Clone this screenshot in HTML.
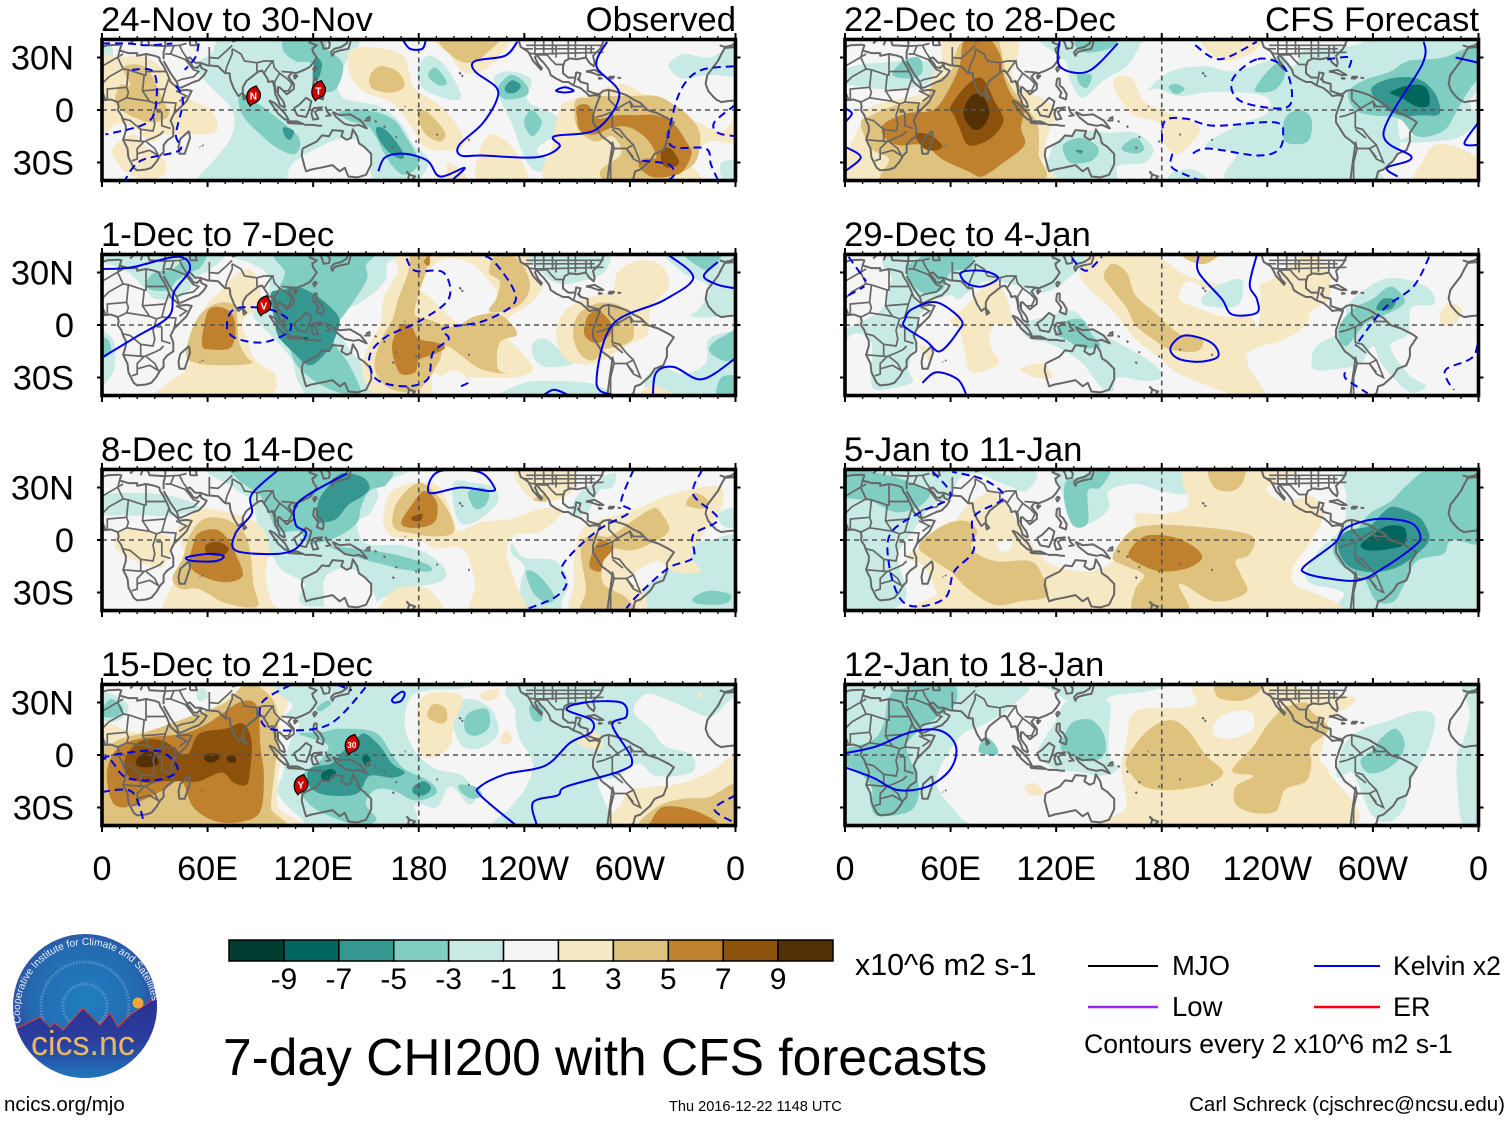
<!DOCTYPE html>
<html lang="en">
<head>
<meta charset="utf-8">
<title>7-day CHI200 with CFS forecasts</title>
<style>
html,body{margin:0;padding:0;background:#fff;}
svg{display:block;font-family:"Liberation Sans",Arial,sans-serif;}
</style>
</head>
<body>
<svg id="chart" xmlns="http://www.w3.org/2000/svg" width="1510" height="1121" viewBox="0 0 1510 1121">
<rect width="1510" height="1121" fill="#fff"/>
<g id="panels"></g>
<g id="xlabels"></g>
<g id="colorbar"></g>
<text x="855" y="975" font-size="30.4">x10^6 m2 s-1</text>
<g>
<line x1="1088" x2="1158" y1="966" y2="966" stroke="#000" stroke-width="2"/>
<text x="1172" y="975" font-size="27.5">MJO</text>
<line x1="1314" x2="1380" y1="966" y2="966" stroke="#0000ff" stroke-width="2"/>
<text x="1393" y="975" font-size="26.6">Kelvin x2</text>
<line x1="1088" x2="1158" y1="1007" y2="1007" stroke="#a020f0" stroke-width="2.4"/>
<text x="1172" y="1016" font-size="27.5">Low</text>
<line x1="1314" x2="1380" y1="1007" y2="1007" stroke="#ff0000" stroke-width="2.4"/>
<text x="1393" y="1016" font-size="27">ER</text>
<text x="1084" y="1053" font-size="26.6">Contours every 2 x10^6 m2 s-1</text>
</g>
<text x="223" y="1075" font-size="51.5">7-day CHI200 with CFS forecasts</text>
<text x="4" y="1111" font-size="20.5">ncics.org/mjo</text>
<text x="669" y="1111" font-size="14.55">Thu 2016-12-22 1148 UTC</text>
<text x="1505" y="1111" font-size="20.5" text-anchor="end">Carl Schreck (cjschrec@ncsu.edu)</text>
<g>
<defs>
<clipPath id="logoClip"><circle cx="85" cy="1006" r="72"/></clipPath>
<radialGradient id="skyGrad" cx="50%" cy="45%" r="55%"><stop offset="0" stop-color="#1f7fc0"/><stop offset="0.7" stop-color="#2469b0"/><stop offset="1" stop-color="#34449e"/></radialGradient>
<linearGradient id="groundGrad" x1="0" y1="0" x2="0" y2="1"><stop offset="0" stop-color="#2b2f92"/><stop offset="0.55" stop-color="#2a3f9e"/><stop offset="1" stop-color="#1f78bd"/></linearGradient>
<path id="logoArc" d="M 21 1023 A 66 66 0 1 1 152 1000"/>
</defs>
<circle cx="85" cy="1006" r="72" fill="url(#skyGrad)"/>
<circle cx="85" cy="1006" r="44" fill="none" stroke="#8fb8e0" stroke-width="3" stroke-dasharray="1.5 1.5" opacity="0.45"/>
<circle cx="85" cy="1006" r="22" fill="none" stroke="#8fb8e0" stroke-width="3" stroke-dasharray="1.5 1.5" opacity="0.45"/>
<g clip-path="url(#logoClip)">
<path d="M10 1030L17 1028L40 1017L50 1027L55 1023L63 1030L83 1008L100 1025L110 1013L118 1027L130 1015L158 996V1080H10Z" fill="url(#groundGrad)" stroke="#e8402a" stroke-width="1"/>
</g>
<circle cx="138" cy="1003" r="5.5" fill="#eea63c"/>
<text font-size="10.2" fill="#e6f2fa"><textPath href="#logoArc">Cooperative Institute for Climate and Satellites</textPath></text>
<text x="31" y="1055" font-size="34" fill="#e9b860">cics.nc</text>
</g>
</svg>
<script>
// ---- Colour scale (band centre values and their fills) ----
const bandValues = [-10,-8,-6,-4,-2,0,2,4,6,8,10];
const bandColors = ["#003c30","#01665e","#35978f","#80cdc1","#c7eae5","#f5f5f5","#f6e8c3","#dfc27d","#bf812d","#8c510a","#543005"];
const barLabels = ["-9","-7","-5","-3","-1","1","3","5","7","9"];
const lonTicks = [0,60,120,180,240,300,360];
const lonLabels = ["0","60E","120E","180","120W","60W","0"];
const latTicks = [30,0,-30];
const latLabels = ["30N","0","30S"];

// ---- CHI200 anomaly fields: [band value, [lon,lat,lon,lat,...]] in paint order ----
const fieldNov24 = [
[-2,[74,42,62,32,53,25,62,13,74,0,74,-14,65,-27,54,-39,54,-42,105,-42,105,-40,110,-29,137,-16,151,-23,153,-37,158,-42,177,-42,186,-29,177,-20,170,-8,158,2,137,7,134,19,139,28,142,42]],
[-2,[-5,36,5,37,6,25,2,18,-5,18]],
[-2,[322,25,330,32,345,30,360,36,365,20,345,20,330,18]],
[-2,[352,-30,365,-30,365,-42,354,-42]],
[-2,[180,25,186,31,196,24,204,8,198,6,186,10,180,16]],
[-2,[223,19,233,22,244,17,242,5,259,-4,257,-14,247,-23,257,-31,247,-35,240,-27,233,-8,226,7]],
[2,[0,28,10,30,25,30,38,20,47,8,62,0,65,-12,50,-14,36,-14,28,-18,18,-10,8,-8,0,-12]],
[2,[6,-22,18,-14,26,-22,35,-28,36,-36,28,-40,18,-38,10,-32]],
[2,[140,32,150,36,170,32,175,20,178,12,195,0,205,-15,203,-22,185,-22,175,-8,165,4,150,10,142,18]],
[2,[192,42,190,38,197,32,205,22,215,22,225,30,230,42]],
[2,[215,-22,222,-14,232,-20,240,-32,240,-42,214,-42]],
[2,[197,-30,207,-38,207,-42,197,-40]],
[2,[256,-42,256,-20,260,0,265,5,280,10,295,15,310,8,320,5,335,-5,352,-12,362,-2,365,-12,365,-20,345,-18,335,-30,335,-42]],
[-4,[186,22,190,24,196,16,192,14,186,18]],
[-4,[225,13,232,20,240,16,242,9,232,6,226,8]],
[-4,[240,-6,244,0,250,-7,245,-15,241,-11]],
[-4,[105,42,103,34,110,28,120,26,125,12,133,12,137,26,128,35,125,42]],
[-4,[78,8,88,4,100,-5,112,-16,110,-25,100,-22,90,-14,80,-3]],
[-4,[135,-1,150,0,165,-5,172,-14,180,-30,172,-37,165,-32,160,-24,152,-10,140,-6]],
[4,[12,24,20,26,27,22,35,5,38,-3,30,-7,20,-5,8,3,10,14,16,14]],
[4,[152,19,158,25,168,22,172,14,165,10,154,12]],
[4,[180,0,186,-2,195,-13,192,-18,184,-14,180,-6]],
[4,[192,42,200,30,210,27,218,32,225,42]],
[4,[269,5,276,7,285,8,300,8,315,8,325,3,335,-5,340,-15,337,-30,325,-38,318,-42,290,-42,283,-35,295,-25,290,-15,280,-18,270,-10]],
[-6,[229,13,233,17,238,14,235,10,230,10]],
[-6,[120,24,122,30,125,26,123,18,120,17]],
[-6,[103,-10,109,-12,107,-17,104,-15]],
[-6,[156,-10,162,-12,171,-24,170,-28,163,-24,157,-16]],
[6,[270,2,276,3,280,-3,283,-5,293,-3,303,-3,315,-3,325,-8,332,-18,335,-25,330,-35,322,-38,312,-38,305,-32,308,-28,315,-27,310,-17,300,-10,290,-10,280,-14,272,-12,270,-5]],
[8,[318,-23,323,-22,328,-30,322,-33,318,-30]]
];
const contourNov24 = [
["s",0,[171,40,175,35,182,35,184,40]],
["s",0,[236,39,229,31,212,28,212,22,224,13,224,5,216,-8,203,-20,204,-26,216,-26,247,-27,260,-21,257,-15,281,-11,294,9,281,25,287,39]],
["s",1,[258,11,263,13,268,11,263,10]],
["s",0,[157,-35,161,-27,172,-25,185,-29,192,-38,206,-33,199,-40]],
["d",0,[0,38,15,38,25,37,40,38]],
["d",0,[55,38,53,30,47,23]],
["d",0,[17,23,29,22,31,7,26,-7,2,-14]],
["d",0,[42,14,46,5,42,-14,44,-23,22,-29,13,-40]],
["d",0,[359,25,341,23,331,15,325,0,323,-20,343,-22,346,-31,350,-40]],
["d",0,[360,3,348,-7,350,-13,360,-15]],
["d",0,[307,-29,322,-31,325,-37,322,-40]]
];
const cycloneNov24 = [["N",86,8],["T",123,11]];

const fieldDec1 = [
[-2,[-5,42,65,42,62,32,55,28,48,18,40,15,30,15,25,20,15,30,0,36,-5,36]],
[-2,[-5,-5,6,-8,7,-25,0,-35,-5,-40]],
[-2,[74,42,85,35,93,30,95,20,88,10,86,5,93,-3,100,-10,108,-20,110,-28,113,-35,120,-42,148,-42,155,-32,150,-25,140,-13,133,-3,125,5,145,12,160,24,162,35,165,42]],
[-2,[228,-42,240,-33,258,-32,280,-34,287,-42]],
[-2,[245,-10,252,-8,262,-16,268,-22,252,-24,245,-18]],
[-2,[308,-32,318,-24,330,-28,343,-22,345,-8,360,-3,365,0,365,-42,318,-42]],
[-2,[322,42,330,30,345,22,340,10,335,5,350,5,365,12,365,42]],
[-2,[240,42,285,42,285,30,268,24,258,24,250,30]],
[2,[32,-42,38,-33,48,-25,52,-10,55,0,60,12,68,20,75,28,84,32,90,22,88,10,80,2,83,-10,87,-20,98,-28,98,-38,88,-42]],
[2,[172,42,168,30,160,15,158,0,150,-15,148,-28,158,-42,185,-42,188,-28,195,-30,205,-30,222,-30,234,-30,245,-25,233,-10,225,-5,232,5,243,12,250,22,243,32,236,42]],
[0,[180,22,185,30,195,38,210,35,220,25,225,15,215,3,205,0,195,7,187,15]],
[0,[192,-30,200,-26,208,-31,200,-36,192,-34]],
[2,[262,-18,258,-5,263,8,275,15,290,20,293,30,305,37,318,34,322,22,312,10,310,-5,300,-11,290,-17,280,-22,270,-22]],
[2,[306,-42,312,-34,322,-38,330,-42]],
[-4,[25,24,30,30,40,32,50,40,60,42,56,33,50,30,42,25,38,20,28,20]],
[-4,[-5,-8,3,-8,5,-15,0,-20,-5,-20]],
[-4,[100,42,104,30,100,20,97,8,100,-3,106,-12,110,-22,118,-30,128,-36,140,-40,147,-38,140,-22,133,-12,130,-2,137,5,150,25,150,34,152,42]],
[-4,[345,-14,352,-7,365,-5,365,-42,350,-42,352,-30,365,-28,365,-22,352,-20]],
[-4,[330,42,338,34,345,32,352,42]],
[4,[48,-18,50,-6,55,5,62,11,70,13,76,10,77,0,78,-10,82,-18,85,-22,70,-23,55,-22]],
[4,[155,-25,158,-10,165,3,168,14,174,30,176,42,186,42,184,30,180,18,178,6,186,3,200,-1,212,5,226,6,236,-5,226,-10,225,-25,232,-28,215,-25,196,-12,192,-20,186,-30,178,-38,163,-36]],
[4,[230,8,240,14,243,25,236,38,224,40,220,30,226,25,224,15,220,8]],
[4,[268,-8,270,5,280,12,292,12,300,5,302,-7,295,-12,285,-14,280,-20,273,-18]],
[-6,[96,18,103,20,110,22,120,18,130,10,135,3,133,-6,128,-15,118,-23,108,-15,100,-6,98,4]],
[6,[57,-12,58,0,61,9,68,10,74,6,76,-3,73,-13,62,-14]],
[6,[165,-10,170,0,176,-1,180,-8,190,-10,195,-13,188,-17,180,-20,178,-27,170,-28,166,-20]],
[6,[274,-5,276,5,282,8,288,3,290,-3,285,-9,279,-10]],
[6,[183,36,186,40,186,34]],
[-8,[113,-7,117,-7,116,-9]]
];
const contourDec1 = [
["s",0,[0,32,17,33,43,39,50,32,41,19,38,5,19,-7,1,-18]],
["s",0,[322,40,336,27,319,14,290,0,281,-33,290,-40]],
["s",0,[350,36,342,28,350,23,360,21]],
["s",0,[360,-19,341,-31,325,-24,315,-27,313,-40]],
["s",0,[251,-40,257,-37,265,-40]],
["d",1,[89,10,75,9,71,0,75,-7,91,-10,106,-4,106,3,98,8]],
["d",0,[173,38,178,31,194,30,197,15,180,2,161,-7,152,-18,156,-31,172,-35,185,-31,188,-16,197,-8,194,-2,216,2,233,11,234,20,223,36,216,40]],
["d",0,[204,-35,208,-33,208,-31]]
];
const cycloneDec1 = [["V",92,11]];

const fieldDec8 = [
[-2,[65,42,75,30,85,22,88,10,86,0,96,-8,102,-17,115,-25,112,-33,118,-38,150,-37,160,-33,170,-28,192,-24,195,-17,185,-8,170,-3,150,-2,145,10,152,15,157,25,157,32,172,38,172,42]],
[0,[128,-20,140,-16,152,-25,155,-42,130,-42,126,-30]],
[-2,[0,25,15,27,35,26,50,22,55,18,40,14,25,14,10,14,0,15]],
[-2,[200,33,210,33,222,30,225,22,215,12,205,9,200,18]],
[-2,[233,-2,240,-10,258,-12,265,-25,262,-33,258,-42,238,-42,238,-25,240,-15,233,-8]],
[-2,[300,-42,305,-30,325,-15,335,-3,345,0,365,0,365,-42]],
[-2,[268,14,276,16,280,24,285,33,275,30,268,22]],
[-2,[285,36,292,38,290,30,283,30]],
[-2,[350,15,360,18,360,8,353,8]],
[2,[40,-42,38,-30,48,-15,45,-2,42,5,52,15,60,18,75,15,90,8,95,-5,93,-20,96,-35,100,-42]],
[2,[8,2,15,6,35,3,40,-2,35,-15,28,-15,15,-10,8,-5]],
[2,[160,15,165,28,180,33,192,30,200,12,203,5,215,10,232,12,250,18,262,17,250,5,235,3,230,-8,235,-25,240,-42,210,-42,212,-25,205,-5,190,-5,180,0,165,2,160,8]],
[2,[160,-35,170,-27,185,-28,193,-42,160,-42]],
[2,[236,42,238,30,248,22,262,24,268,30,266,42]],
[2,[268,-42,268,-25,269,-5,275,8,295,15,305,18,320,25,340,30,352,30,352,18,345,8,335,-8,340,-18,325,-18,315,-12,300,-22,308,-30,306,-42]],
[-4,[80,42,76,36,90,25,95,15,100,5,112,5,118,-2,134,2,145,10,147,18,152,28,162,32,158,42]],
[-4,[130,-4,145,-5,165,-8,185,-14,186,-18,172,-17,160,-14,145,-10]],
[-4,[208,27,215,30,220,27,218,20,212,18]],
[-4,[241,-18,248,-20,257,-32,253,-36,245,-30]],
[-4,[336,-33,345,-29,357,-31,355,-36,345,-37,337,-36]],
[4,[40,-22,46,-10,50,3,58,12,70,12,80,5,84,-5,86,-25,88,-38,70,-36,55,-28,45,-28]],
[4,[165,12,168,22,178,32,186,30,196,18,200,5,190,2,175,4,167,6]],
[4,[245,23,252,26,252,22]],
[4,[273,-42,275,-28,272,-5,278,3,288,2,300,10,313,18,318,15,322,5,310,-3,300,-6,290,-5,285,-12,285,-25,298,-33,302,-42]],
[4,[332,20,337,27,345,22,342,18]],
[-6,[122,12,123,22,128,30,136,38,148,36,152,30,148,25,140,20,133,12,125,10]],
[6,[52,-2,55,4,65,6,72,0,76,-8,80,-20,72,-24,60,-22,50,-15]],
[6,[170,10,176,20,183,28,190,22,190,12,185,8,175,7]],
[6,[277,-15,280,-4,285,0,290,-5,285,-12,283,-18]],
[8,[59,-3,66,-1,72,-5,68,-9,60,-8]],
[8,[176,13,182,15,181,11,177,11]]
];
const contourDec8 = [
["s",0,[100,40,85,26,85,15,76,4,76,-6,98,-8,110,-5,116,4,110,9,112,22,139,38]],
["s",1,[186,27,191,39,214,39,223,30,220,28,204,30]],
["s",1,[48,-10,60,-8,69,-9,65,-12,52,-12]],
["d",0,[302,40,295,22,300,16,281,5,262,-14,264,-25,257,-33,240,-40]],
["d",0,[341,40,336,26,350,12,336,3,336,-10,322,-16,305,-31,298,-39]]
];
const cycloneDec8 = [];

const fieldDec15 = [
[2,[-5,-42,-5,15,20,13,40,18,60,25,78,38,85,42,105,42,106,30,100,15,102,0,100,-12,100,-30,108,-42]],
[-2,[105,42,108,28,104,22,112,18,106,5,103,-10,100,-22,113,-36,122,-42,175,-42,178,-28,190,-30,198,-18,208,-28,212,-24,205,-12,190,-8,178,2,172,18,178,35,205,38,210,42]],
[-2,[240,42,235,25,237,10,245,-5,240,-20,232,-30,225,-42,290,-42,286,-28,282,-15,292,-13,305,-5,315,-12,335,-10,335,0,320,5,312,15,302,25,310,35,325,30,345,22,355,30,365,42]],
[-2,[-5,33,5,35,15,28,10,20,0,20]],
[-2,[54,36,58,38,60,33,55,31]],
[-2,[198,28,210,32,222,25,225,12,215,4,205,5,200,15]],
[2,[180,12,180,30,190,36,205,33,200,18,198,6,190,-1,182,0]],
[2,[226,8,230,14,233,9,230,6]],
[2,[215,35,225,38,225,33,218,31]],
[2,[338,35,341,35,341,32]],
[2,[270,7,276,14,282,12,285,5,280,3]],
[2,[292,-42,295,-28,300,-20,315,-18,330,-16,345,-10,365,0,365,-42]],
[-4,[0,26,5,32,12,27,8,22,0,22]],
[-4,[112,12,125,13,135,15,155,13,165,0,172,-8,186,-15,190,-22,178,-26,165,-20,155,-20,150,-28,156,-37,145,-40,125,-33,115,-25,110,-15,118,-8,125,-2,128,6]],
[-4,[203,-17,212,-18,216,-23,210,-25,204,-21]],
[-4,[122,27,128,31,130,29,124,25]],
[-4,[243,28,250,28,250,20,245,20]],
[-4,[206,20,210,25,219,26,220,16,213,11,207,13]],
[4,[-5,-42,-5,-5,8,8,25,13,50,22,70,30,80,40,85,42,98,30,100,10,98,-10,96,-30,98,-42]],
[4,[185,22,188,29,195,27,196,20,192,18]],
[4,[308,-42,315,-30,330,-25,345,-24,365,-15,365,-42]],
[-6,[135,0,145,10,150,12,158,5,165,-5,172,-10,165,-13,152,-12,145,-22,128,-23,118,-18,118,-8,130,-5]],
[-6,[177,-18,183,-15,187,-19,183,-23,177,-22]],
[6,[5,-25,3,-8,10,5,25,10,45,12,60,18,78,30,88,28,90,5,92,-12,90,-32,80,-38,65,-38,52,-30,45,-15,35,-20,25,-25,12,-30]],
[6,[312,-38,318,-30,330,-30,342,-34,348,-40,312,-41]],
[-8,[125,-10,130,-8,133,-10,130,-14,125,-14]],
[-8,[148,-1,152,-1,152,-5,149,-5]],
[8,[15,-12,13,-2,22,8,35,8,48,0,55,12,70,15,80,18,85,8,84,-10,82,-17,75,-16,68,-10,55,-15,45,-15,35,-15,25,-16]],
[10,[20,-2,25,2,30,1,32,-5,26,-7,20,-6]],
[10,[58,-1,63,1,67,-1,64,-4,60,-4]],
[10,[71,-1,75,0,76,-4,72,-4]]
];
const contourDec15 = [
["s",1,[165,32,170,36,172,35,170,31,166,30]],
["s",0,[235,-40,215,-23,215,-18,229,-11,252,-6,266,7,278,13,278,20,264,26,274,30,295,30,298,22,290,17,301,-2,295,-9,264,-18,259,-23,245,-27,247,-40]],
["d",0,[107,40,91,30,92,17,106,14,130,18,151,40]],
["d",0,[134,40,142,37]],
["d",1,[0,-2,12,1,33,2,43,-8,33,-14,14,-13,5,-3]],
["d",0,[0,-21,17,-21,24,-39]],
["d",0,[360,-23,348,-31,360,-39]]
];
const cycloneDec15 = [["30",142,6],["Y",113,-17]];

const fieldDec22 = [
[-2,[-5,20,5,25,20,27,45,28,55,22,50,17,40,13,20,12,5,14,-5,15]],
[-2,[112,42,125,28,128,17,135,7,147,17,160,25,168,38,168,42]],
[-2,[115,-30,120,-18,135,-12,150,-13,165,-13,175,-22,170,-30,155,-32,152,-42,120,-42,112,-37]],
[-2,[173,12,185,22,205,25,220,22,240,28,248,32,255,25,262,35,282,36,293,38,300,42,345,42,365,42,365,18,355,5,360,-5,350,-15,335,-18,315,-18,330,-10,315,-5,315,-22,305,-35,300,-42,220,-42,222,-25,205,-20,225,-8,240,-2,240,7,225,10,205,10,190,8,178,12]],
[-2,[186,-36,198,-34,205,-40,185,-42]],
[2,[-5,-42,-5,-28,0,-25,8,-10,12,0,25,5,45,10,50,20,55,30,58,42,95,42,98,30,95,20,105,10,115,5,120,-2,115,-15,112,-30,112,-42]],
[2,[153,18,163,18,170,5,180,0,200,-8,200,-15,190,-25,182,-20,180,-8,165,-3,155,8]],
[2,[205,42,205,35,215,28,232,33,235,42]],
[2,[325,-42,328,-30,335,-20,350,-22,365,-32,365,-42]],
[-4,[27,20,33,28,42,30,44,22,38,18]],
[-4,[132,40,135,33,150,35,155,42]],
[-4,[132,20,140,20,138,13,134,14]],
[-4,[124,-20,135,-16,144,-22,140,-29,128,-30]],
[-4,[157,-22,165,-16,170,-22,165,-25]],
[-4,[184,13,188,15,193,12,188,9]],
[-4,[233,12,240,22,248,28,250,20,245,12,237,10]],
[-4,[250,-5,258,0,265,-5,263,-18,250,-18]],
[-4,[286,10,295,17,310,22,320,28,340,30,360,37,365,25,355,12,348,0,340,-12,325,-15,315,-5,300,-3,290,0]],
[-4,[345,22,352,28,362,28,362,22,350,17]],
[4,[9,-8,15,-3,30,3,45,5,50,15,60,22,62,30,68,40,85,42,90,28,92,18,100,5,108,-5,110,-12,110,-25,108,-42,25,-42,20,-38,25,-28,15,-22]],
[-6,[131,-23,135,-23,134,-25]],
[-6,[299,12,310,18,325,18,335,10,338,-2,328,-3,315,-3,305,3]],
[6,[22,-8,35,-2,50,0,58,10,65,25,68,40,80,42,88,32,90,20,95,8,102,2,100,-10,102,-20,90,-30,78,-38,70,-35,55,-28,45,-20,30,-20,22,-15]],
[-8,[310,10,320,14,330,13,332,3,325,2,316,7]],
[8,[40,-14,48,-14,55,-20,52,-23,45,-22]],
[8,[60,2,70,15,78,18,85,5,90,-5,87,-12,80,-18,70,-20,65,-10,62,-3]],
[10,[68,2,73,9,79,7,82,-2,78,-10,73,-11,68,-5]]
];
const contourDec22 = [
["s",0,[122,40,122,25,138,22,155,38]],
["s",0,[329,39,328,26,306,-13,322,-27,308,-33,314,-38]],
["s",0,[347,30,360,27]],
["s",0,[360,-7,352,-19,360,-20]],
["s",0,[0,1,4,-2,0,-7]],
["s",0,[0,-21,9,-27,0,-35]],
["d",0,[199,37,213,29,234,39]],
["d",1,[234,29,220,17,225,5,249,1,254,9,249,25]],
["d",0,[180,-18,182,-6,194,-5,210,-9,244,-7,249,-14,246,-23,234,-26,206,-22,196,-26]],
["d",0,[186,-25,186,-33,201,-40]],
["d",0,[274,29,287,30,286,23]]
];
const cycloneDec22 = [];

const fieldDec29 = [
[2,[133,36,140,42,170,42,180,38,195,28,222,22,240,25,250,32,265,42,275,30,275,15,265,8,262,0,250,-8,230,-15,230,-25,240,-42,225,-42,215,-38,190,-28,178,-18,165,-8,155,5,145,15,135,25]],
[0,[195,25,210,20,225,28,235,28,235,0,230,5,215,5,200,10,190,15]],
[-2,[-5,-5,5,0,20,8,25,20,28,30,30,25,42,12,48,10,42,5,40,-10,36,-25,38,-33,20,-37,15,-33,15,-10,5,-5,-5,-15]],
[-2,[28,25,30,42,130,42,125,25,110,18,100,22,80,25,65,15,60,17,45,14]],
[-2,[203,12,205,18,218,25,226,25,224,12,214,10]],
[-2,[100,0,115,5,130,8,140,-2,155,-10,175,-22,180,-30,170,-32,155,-30,152,-38,145,-35,135,-22,125,-15,115,-10,105,-8]],
[-2,[266,-25,268,-12,285,-2,285,10,295,20,310,27,330,22,335,12,322,10,320,-5,310,-12,320,-28,330,-35,320,-38,305,-22,300,-12,293,-22,280,-25]],
[2,[60,2,62,5,72,14,82,25,90,20,95,0,85,0,82,-10,87,-22,72,-27,68,-15,65,-3]],
[2,[42,-12,48,-20,50,-15,46,-12]],
[2,[100,-25,112,-22,118,-30,108,-30]],
[2,[338,3,342,12,350,10,350,5,344,-1]],
[2,[306,42,312,39,318,42]],
[-4,[35,33,37,25,45,18,55,20,60,30,72,33,70,42,48,42,42,38]],
[-4,[120,-5,125,2,135,3,140,-5,145,-12,135,-13,125,-8]],
[-4,[280,-5,283,3,290,10,300,15,310,22,318,15,315,10,305,5,295,0,285,-12]],
[4,[147,28,152,35,160,30,165,17,175,8,190,-5,203,-8,200,-15,185,-14,175,-8,165,0,160,10,152,20]],
[4,[192,42,195,37,205,35,213,42]],
[-6,[302,9,306,15,313,14,310,9]]
];
const contourDec29 = [
["s",1,[66,30,78,31,87,27,78,22,69,24]],
["s",1,[34,3,38,9,52,13,66,3,64,-4,54,-15,46,-9,34,-1]],
["s",0,[44,-33,52,-27,64,-31,69,-40]],
["s",0,[201,40,201,30,214,15,220,6,234,7,234,15,230,23,234,40]],
["s",1,[185,-13,193,-6,208,-10,212,-18,201,-21,189,-19]],
["d",0,[332,39,323,22,306,9,290,-12]],
["d",0,[284,-27,285,-31,297,-39]],
["d",0,[360,-4,357,-18,342,-25,342,-31,346,-37]],
["d",0,[2,39,12,25]],
["d",0,[2,17,11,22]],
["d",0,[129,38,137,31,146,39]]
];
const cycloneDec29 = [];

const fieldJan5 = [
[-2,[-5,42,100,42,103,28,90,32,75,38,65,35,60,25,50,20,45,14,35,0,30,-10,35,-30,30,-38,18,-42,-5,-42]],
[-2,[124,42,124,25,130,10,140,10,150,18,150,28,165,32,180,28,195,27,190,42]],
[-2,[262,-18,270,-5,283,8,285,25,288,42,365,42,365,-42,285,-42,283,-30,265,-25]],
[2,[35,-10,45,-3,60,8,72,22,85,27,95,15,105,0,112,-10,120,-15,140,-18,155,-10,165,5,165,15,180,15,195,20,196,42,260,42,240,30,250,22,265,25,272,15,268,5,262,-5,255,-15,255,-25,270,-42,55,-42,52,-30,45,-15]],
[0,[87,-1,95,-1,93,-6,88,-6]],
[-4,[-5,40,20,38,45,30,48,25,40,18,28,16,15,22,0,24,-5,24]],
[-4,[125,32,130,35,150,40,145,30,138,28,138,10,130,8,125,20]],
[-4,[278,-3,290,5,298,15,310,22,320,32,335,42,365,42,365,0,345,0,340,-8,325,-12,318,-25,312,-35,302,-35,295,-22,290,-20,280,-12]],
[4,[42,-3,55,8,68,11,75,5,72,-5,85,-12,105,-12,112,-20,115,-32,100,-35,85,-37,70,-28,60,-18,48,-10]],
[4,[152,-10,160,3,170,8,195,8,230,3,230,-8,222,-12,225,-20,228,-30,210,-35,190,-25,195,-42,165,-42,165,-28,170,-20,160,-15]],
[4,[207,42,210,30,220,28,226,33,226,42]],
[-6,[280,-3,285,5,298,8,305,15,312,19,325,14,330,8,332,0,325,-8,315,-15,305,-18,295,-18,285,-14]],
[-8,[293,-3,300,3,308,8,318,7,318,-2,310,-5,298,-6]],
[6,[161,-8,170,2,185,2,197,-3,203,-10,195,-16,180,-18,168,-14]]
];
const contourJan5 = [
["s",1,[261,-15,278,-2,285,7,302,12,321,10,327,2,323,-4,306,-16,292,-23,275,-22,262,-19]],
["d",0,[50,39,60,25,43,16,26,4,25,-14,31,-33,41,-38,57,-33,62,-18,73,-6,73,13,90,24,80,34,61,39]]
];
const cycloneJan5 = [];

const fieldJan12 = [
[-2,[-5,42,97,42,95,28,78,17,65,10,52,-15,65,-35,68,-42,-5,-42]],
[-2,[97,42,180,42,175,37,150,33,150,25,135,30,128,30,115,38]],
[-2,[110,3,115,12,120,20,125,30,135,32,150,30,150,15,150,0,155,-8,145,-12,135,-10,120,-8,112,-3]],
[-2,[280,-5,285,8,295,15,310,20,325,25,335,22,332,5,325,-8,320,-20,318,-30,310,-38,300,-35,293,-20,288,-10,280,-13]],
[-2,[348,0,352,10,355,25,350,42,365,42,365,-42,352,-42,348,-20]],
[2,[150,-42,160,-30,157,-8,160,8,165,25,190,27,200,30,200,42,252,42,260,38,290,32,275,20,272,5,270,-3,275,-10,285,-42]],
[0,[209,15,215,23,230,25,232,15,222,10,212,10]],
[2,[102,-18,108,-16,113,-22,106,-23]],
[-4,[25,33,33,38,60,42,63,30,53,22,42,14,35,5,40,-10,42,-22,37,-32,20,-35,15,-30,15,-18,5,-8,-5,-5,-5,2,15,8,22,18]],
[-4,[123,3,125,12,130,19,140,20,147,12,148,2,143,-3,135,-3]],
[-4,[76,2,80,10,86,5,86,0]],
[-4,[293,-3,300,3,305,10,313,15,318,7,315,-2,306,-9,297,-10]],
[4,[160,-2,172,14,185,20,195,14,205,0,215,-10,205,-17,185,-20,170,-18,162,-10]],
[4,[220,-9,232,5,240,17,250,27,262,30,265,25,275,15,265,5,265,-5,262,-15,250,-20,245,-32,232,-33,222,-28,222,-18,232,-12]],
[4,[212,42,212,33,225,31,235,36,235,42]]
];
const contourJan12 = [
["s",0,[0,1,18,5,37,13,54,14,63,5,60,-8,47,-18,30,-20,16,-13,0,-7]]
];
const cycloneJan12 = [];

// ---- Coastlines and borders as lon,lat polylines ----
const coastlines = [
[0,5.5,5,6,9,4.5,9.5,2,9,0,11,-3,12,-6,13.5,-9,13.5,-12,12,-17,14.5,-22,15,-27,18,-33,20,-34.5,25,-34,28,-33,31,-29.5,33,-26,35,-24,35,-20,37,-17.5,40.5,-15,40.5,-10,39,-6,41,-2,44,1,48,5,51,11,48,11.5,44,11,43,12.5,39,16,37,21,35,25,33,28,32.5,30,30,31,25,32,20,31,20,32.5,15,32.5,10,34,11,37,9.5,37.3,3,37,0,36],
[360,5.5,355,5,352,4.5,349,6,347,8,344.5,11,343,15,344,20,347,24,350,28,352,32,354,35.5,360,36],
[351,37,354,36,358,37,360,38.5],[0,39,3,42],[16,38,18,40,16,41],[22,37,23,40,26,40,27,37,36,36.5,36,40,41,41],
[35,29,35,33,36,36.5],
[35,28,39,21,42.5,16,43.5,12.8,45,12.8,52,16,55,17,58,20,59.5,22.5,56.5,24,56,26,54,24,51.5,24.5,51,26,48,29.5,50,30,53,27,56,27,60,25.5,66,25,67,24,70,21,72.5,21,73,17,75,12,77.5,8,80,10,80,13,82,16.5,87,20.5,89,22,91,22.5,94,18,94.5,16,97,16.5,98,13,98.5,9,100,6,101,3,103.5,1.5,104,2,103,5,100,9,100,13,101,13,103,11,105,9,107,10.5,109,12,109,15,106,19,108,21.5,110,21,114,22.5,118,24.5,120,27,122,30,120,33,119.5,35,122,37,118,38.5,118,39.5,121,40,124,40,125,38,126,35,129,35.5,129.5,38,128,40,130,42],
[50,37,54,37,53,40,52,42],[48,42,50,40,50,37],
[80,9.5,82,7,80.5,6,80,9.5],
[109,1,112,3,116,7,119,5,118,1,116,-4,111,-3,109,1],
[95,5.5,98,4,104,-2,106,-5.5,104,-5.5,100,-2,95,5.5],
[105,-6.5,111,-6.5,114.5,-8,106,-7.5,105,-6.5],
[115,-8.5,120,-8.5,123,-9,125,-9],
[120,1,125,1.5,121,-1,123,-5,120,-5.5,119,-2,120,1],
[127,2,128,-1,130,-3,127,-3.5],
[131,-1,135,-3,141,-2.5,147,-6,150.5,-10.5,146,-8.5,143,-9,138,-8,133,-4,131,-1],
[150,-5,152,-4,152,-6,149,-6],
[120.5,18,122,18,122,14,124,12.5,126,9,125.5,6,122,7.5,123,10,120,14,120.5,18],
[121,25,122,24,120.7,22,120,23.5,121,25],
[130,33,131,31,132,33,135,34,140,35,141,38,141.5,41,140,41,139,38,136,36,132,35,130,33],
[109,20,111,19.5,109.5,18,109,20],
[114,-22,113.5,-26,115,-32,116,-35,119,-34,124,-33,131,-31.5,135,-35,138,-33,140,-38,145,-38.5,150,-37,153,-31,153,-25,149,-21,146,-19,145,-15,142.5,-11,141.5,-16,139,-17,136,-15,137,-12,131,-11.5,129,-15,125,-14.5,122,-18,118,-20,114,-22],
[173,-35,175,-37,178,-38,175,-41,174,-39,174.5,-37,173,-35],
[49.5,-12,50,-16,47,-25,44,-25,43.5,-21,44.5,-16.5,49.5,-12],
[236,42,238,36,242,33.5,243.5,31,245,28,249.5,23,250,24,248,26,246,30,247,31.5,249,29,251,27,254,23,255,20,258,18,262,16,265,16,268,14,272,12.5,275,10,277,8,280,8.5,283,8,282.5,9,280,9.5,276,11,276,15,272,16,271,18,272,21,269.5,21.5,269,18.5,265,18.5,262,21,262,25,263,28,266,29.5,270,29,275,30,277,27,279.5,25,280,27,279,31,283,35,284,37,286,42],
[275,22,280,23,285,20,282,20,278,21.5,275,22],
[288,19,291,19,290,18,288,18,288,19],
[282,18.5,284,18,282,17.8],[293,18.5,295,18.2],
[283,8,282.5,9,285,11,288,11.5,292,10.5,298,8.5,302,6,306,4,310,0,316,-2,322,-5,325,-7,321,-13,321,-18,319,-23,314,-25,311.5,-29,306,-34,303,-35,302,-39,298,-42],
[287,-42,288.5,-30,290,-20,288,-18,284,-15,279,-7,279,-3,280,0,281,3,283,8],
[203,21.5,204,20.5],[205,20,204.5,19],[178,-18,179,-18],[167,-16,167.5,-15],[165,-21,166,-22],[160,-9,161,-10],[57,-20,57.5,-20.5],[55.5,-21,55.8,-21.3],[172,2,172.5,2],[190,-14,191,-14],[208,-17,209,-17],[155,-6,156,-7]
];
const borders = [
[0,15,4,19,12,23.5,15,23,24,20,25,20,25,32],[25,22,37,22],[15,23,14,13,15,10,14,7,9,4.5],[24,20,23,11,27,5,31,3.5,34,4.5,42,4,41,-2],[34,4.5,36,12,38,18],[34,-1,34,-9,39,-10.5],[12,-5,16,-6,22,-11,29,-12,30,-8,29,-3,31,3.5],[12,-17,24,-18,20,-22,20,-28,17,-29],[25,-18,30,-22,32,-26,27,-23,20,-25],[35,-12,33,-14,30,-15.5,24,-18],[22,-11,22,-18],[14,13,3,12,3,6],[42,11,48,8,44,5],[2,6,0,11],[31,-1,34,-1],[14,7,27,5],[23,11,36,12],[10,34,9,30,12,23.5],[0,25,12,32],
[36,32,39,32,47,29,48,28,52,23,55,22,52,19,45,17.5,43,16.5],[46,33,48,30],[44,37,46,33],[61,25,61,30,61,36],[61,30,66,29.5,71,34,74,37],[74,35,79,32,81,28,88,27,92,28,97,28,94,24,92,21],[97,28,98,24,101,21,98,16,99,10],[101,21,105,18,108,15,106,11,103,11],[102,22,108,21.5],[80,41,74,39],[36,36.5,44,37,48,38],[39,32,41,37],[70,21,71,25,74,32,74,35],[88,27,88,22],
[288,11,288,6,293,1,300,5,301,1],[293,1,290,-1,285,-3,281,-4],[290,-1,290,-10,294,-11,298,-16,302,-20,304,-25,306,-30,302,-28,298,-22,291,-22,290,-18],[291,-22,289,-30,289,-42],[302,-20,298,-22,302,-27],[300,5,302,2,305,2,308,2],[296,-16,290,-11],
[243,32.5,249,31.5,253,31.5,255,29,258,26,262.5,26],[268,14,269,18],[272,16,270,18],
[246,42,246,32],[251,42,251,31.5],[256,42,256,31.5],[258,37,258,30],[265,42,265,29.5],[269,42,269,30],[275,37,275,30],[278,37,278,32],[241,37,246,37,285,37],[240,35,245,35],[246,35,280,35],[255,41,282,41],[246,32,285,33],[241,40,286,40]
];

// ---- Panels ----
const panelList = [
{title:"24-Nov to 30-Nov",tag:"Observed",field:fieldNov24,contours:contourNov24,storms:cycloneNov24,col:0,row:0},
{title:"1-Dec to 7-Dec",tag:"",field:fieldDec1,contours:contourDec1,storms:cycloneDec1,col:0,row:1},
{title:"8-Dec to 14-Dec",tag:"",field:fieldDec8,contours:contourDec8,storms:cycloneDec8,col:0,row:2},
{title:"15-Dec to 21-Dec",tag:"",field:fieldDec15,contours:contourDec15,storms:cycloneDec15,col:0,row:3},
{title:"22-Dec to 28-Dec",tag:"CFS Forecast",field:fieldDec22,contours:contourDec22,storms:cycloneDec22,col:1,row:0},
{title:"29-Dec to 4-Jan",tag:"",field:fieldDec29,contours:contourDec29,storms:cycloneDec29,col:1,row:1},
{title:"5-Jan to 11-Jan",tag:"",field:fieldJan5,contours:contourJan5,storms:cycloneJan5,col:1,row:2},
{title:"12-Jan to 18-Jan",tag:"",field:fieldJan12,contours:contourJan12,storms:cycloneJan12,col:1,row:3}
];

// ---- Axis helpers ----
const NS = "http://www.w3.org/2000/svg";
const colLeft = [102, 845];
const mapWidth = 633.5;
const pxPerLat = 1.75;
const frameLat = 40.3;
function rowEquator(row){ return 110 + row * 215; }
function xAxis(col, lon){ return colLeft[col] + lon * mapWidth / 360; }
function yAxis(row, lat){ return rowEquator(row) - lat * pxPerLat; }
function colorFor(v){ return bandColors[bandValues.indexOf(v)]; }
function make(tag, attrs, parent){
  const el = document.createElementNS(NS, tag);
  for (const k in attrs) el.setAttribute(k, attrs[k]);
  parent.appendChild(el);
  return el;
}
function toPoints(arr, col, row){
  const pts = [];
  for (let i = 0; i < arr.length; i += 2) pts.push([xAxis(col, arr[i]), yAxis(row, arr[i + 1])]);
  return pts;
}
function smoothPath(pts, closed){
  const n = pts.length;
  const at = i => closed ? pts[(i + n) % n] : pts[Math.max(0, Math.min(n - 1, i))];
  let d = "M" + pts[0][0].toFixed(1) + " " + pts[0][1].toFixed(1);
  const segs = closed ? n : n - 1;
  for (let i = 0; i < segs; i++) {
    const p0 = at(i - 1), p1 = at(i), p2 = at(i + 1), p3 = at(i + 2);
    const c1x = p1[0] + (p2[0] - p0[0]) / 6, c1y = p1[1] + (p2[1] - p0[1]) / 6;
    const c2x = p2[0] - (p3[0] - p1[0]) / 6, c2y = p2[1] - (p3[1] - p1[1]) / 6;
    d += "C" + c1x.toFixed(1) + " " + c1y.toFixed(1) + " " + c2x.toFixed(1) + " " + c2y.toFixed(1) + " " + p2[0].toFixed(1) + " " + p2[1].toFixed(1);
  }
  return closed ? d + "Z" : d;
}
function linePath(pts){
  return "M" + pts.map(p => p[0].toFixed(1) + " " + p[1].toFixed(1)).join("L");
}

// ---- Build the panels ----
const panelsRoot = document.getElementById("panels");
const svgRoot = document.getElementById("chart");
const defsRoot = make("defs", {}, svgRoot);
panelList.forEach(function(panel, idx){
  const col = panel.col, row = panel.row;
  const left = xAxis(col, 0), right = xAxis(col, 360);
  const top = yAxis(row, frameLat), bottom = yAxis(row, -frameLat);
  const g = make("g", {}, panelsRoot);
  
  

  const clipId = "clip" + idx;
  const clip = make("clipPath", {id: clipId}, defsRoot);
  make("rect", {x: left, y: top, width: right - left, height: bottom - top}, clip);

  const inner = make("g", {"clip-path": "url(#" + clipId + ")"}, g);
  const bg = make("rect", {x: left, y: top, width: right - left, height: bottom - top, fill: colorFor(0)}, inner);
  
  

  panel.field.forEach(function(region){
    const shape = make("path", {d: smoothPath(toPoints(region[1], col, row), true), fill: colorFor(region[0])}, inner);
    
    
  });

  coastlines.forEach(function(line){
    const coast = make("path", {d: linePath(toPoints(line, col, row)), fill: "none", stroke: "#666", "stroke-width": 2, "stroke-linejoin": "round"}, inner);
    
    
  });
  borders.forEach(function(line){
    const border = make("path", {d: linePath(toPoints(line, col, row)), fill: "none", stroke: "#666", "stroke-width": 1.7}, inner);
    
    
  });

  const eq = make("line", {x1: left, x2: right, y1: yAxis(row, 0), y2: yAxis(row, 0), stroke: "#555", "stroke-width": 1.6, "stroke-dasharray": "5 4"}, inner);
  
  
  const dl = make("line", {x1: xAxis(col, 180), x2: xAxis(col, 180), y1: top, y2: bottom, stroke: "#555", "stroke-width": 1.6, "stroke-dasharray": "5 4"}, inner);
  
  

  panel.contours.forEach(function(c){
    const attrs = {d: smoothPath(toPoints(c[2], col, row), c[1] === 1), fill: "none", stroke: "#0000e6", "stroke-width": 2};
    if (c[0] === "d") attrs["stroke-dasharray"] = "8 5";
    const kelvin = make("path", attrs, inner);
    
    
  });

  panel.storms.forEach(function(s){
    const cx = xAxis(col, s[1]), cy = yAxis(row, s[2]);
    const st = make("g", {}, inner);
    
    
    make("path", {d: "M" + (cx + 3) + " " + (cy - 10) + "C" + (cx - 8) + " " + (cy - 7) + " " + (cx - 9) + " " + (cy + 3) + " " + (cx - 3) + " " + (cy + 10) + "C" + (cx - 2) + " " + (cy + 7) + " " + (cx + 8) + " " + (cy + 7) + " " + (cx + 7) + " " + (cy - 2) + "C" + (cx + 7) + " " + (cy - 5) + " " + (cx + 4) + " " + (cy - 7) + " " + (cx + 3) + " " + (cy - 10) + "Z", fill: "#d00000", stroke: "#000", "stroke-width": 1.2}, st);
    const lab = make("text", {x: cx, y: cy + 3.5, "font-size": s[0].length > 1 ? 8 : 10, "font-weight": "bold", "text-anchor": "middle", fill: "#fff"}, st);
    lab.textContent = s[0];
  });

  // frame and ticks
  const frame = make("rect", {x: left, y: top, width: right - left, height: bottom - top, fill: "none", stroke: "#000", "stroke-width": 3.6}, g);
  
  
  for (let lon = 0; lon <= 360; lon += 10) {
    const len = lon % 60 === 0 ? 6.5 : 3.5;
    const w = lon % 60 === 0 ? 2 : 1.3;
    const tt = make("line", {x1: xAxis(col, lon), x2: xAxis(col, lon), y1: top, y2: top - len, stroke: "#000", "stroke-width": w}, g);
    
    
    const bt = make("line", {x1: xAxis(col, lon), x2: xAxis(col, lon), y1: bottom, y2: bottom + len, stroke: "#000", "stroke-width": w}, g);
    
    
  }
  latTicks.forEach(function(lat, i){
    const y = yAxis(row, lat);
    const lt = make("line", {x1: left, x2: left - 5, y1: y, y2: y, stroke: "#000", "stroke-width": 2}, g);
    
    
    const rt = make("line", {x1: right, x2: right + 5, y1: y, y2: y, stroke: "#000", "stroke-width": 2}, g);
    
    
    if (col === 0) {
      const yl = make("text", {x: 74, y: y + 12, "font-size": 34.4, "text-anchor": "end"}, g);
      
      
      yl.textContent = latLabels[i];
    }
  });

  const title = make("text", {x: left - 1, y: top - 8.5, "font-size": 34.7}, g);
  
  
  title.textContent = panel.title;
  if (panel.tag) {
    const tag = make("text", {x: right + 0.5, y: top - 8.5, "font-size": 34.7, "text-anchor": "end"}, g);
    
    
    tag.textContent = panel.tag;
  }
});

// ---- Longitude labels beneath each column ----
const xlabelsRoot = document.getElementById("xlabels");
[0, 1].forEach(function(col){
  lonTicks.forEach(function(lon, i){
    const t = make("text", {x: xAxis(col, lon), y: 880, "font-size": 34.2, "text-anchor": "middle"}, xlabelsRoot);
    
    
    t.textContent = lonLabels[i];
  });
});

// ---- Colour bar ----
const barRoot = document.getElementById("colorbar");
const barLeft = 229, barStep = 604 / bandColors.length;
bandColors.forEach(function(c, i){
  const r = make("rect", {x: barLeft + i * barStep, y: 940, width: barStep, height: 21, fill: c, stroke: "#000", "stroke-width": 1.5}, barRoot);
  
  
});
barLabels.forEach(function(label, i){
  const t = make("text", {x: barLeft + (i + 1) * barStep, y: 989, "font-size": 30, "text-anchor": "middle"}, barRoot);
  
  
  t.textContent = label;
});
</script>
</body>
</html>
